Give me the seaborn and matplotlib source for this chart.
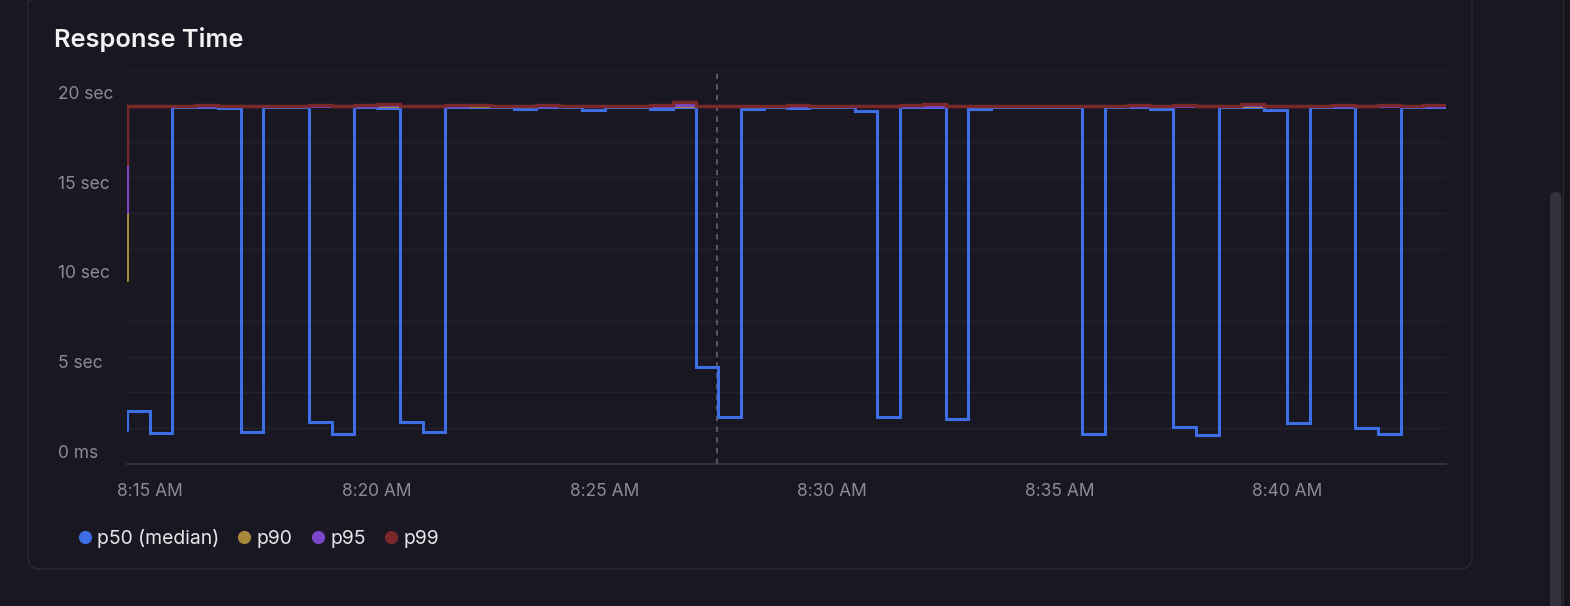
# response time percentiles, dark dashboard card

import matplotlib
matplotlib.use("Agg")
import matplotlib.pyplot as plt
from matplotlib.lines import Line2D
from matplotlib.patches import FancyBboxPatch, Rectangle
from matplotlib.transforms import IdentityTransform, ScaledTranslation
import seaborn as sns
import pandas as pd

# 30 second buckets, 8:14:30 .. 8:43:30
times = pd.date_range("2024-01-01 08:14:30", "2024-01-01 08:43:30", freq="30s")

# seconds
p50 = [1.9, 2.96, 1.75, 19.93, 19.93, 19.9, 1.8, 19.93, 19.93, 2.33,
       1.68, 19.93, 19.9, 2.33, 1.77, 19.93, 19.93, 19.94, 19.82, 19.93,
       19.93, 19.75, 19.93, 19.93, 19.82, 19.96, 5.4, 2.65, 19.85, 19.93,
       19.86, 19.93, 19.93, 19.7, 2.6, 19.93, 19.94, 2.5, 19.85, 19.93,
       19.93, 19.93, 19.93, 1.7, 19.93, 19.93, 19.85, 2.08, 1.62, 19.93,
       19.96, 19.75, 2.27, 19.93, 19.93, 2.03, 1.66, 19.93, 19.93]
p90 = [10.3, 20.0, 20.0, 20.0, 20.0, 20.0, 20.0, 20.0, 20.0, 20.0,
       20.0, 20.0, 20.0, 20.0, 20.0, 20.0, 20.0, 20.0, 20.0, 20.0,
       20.0, 20.0, 20.0, 20.0, 20.0, 20.0, 20.0, 20.0, 20.0, 20.0,
       20.0, 20.0, 20.0, 20.0, 20.0, 20.0, 20.0, 20.0, 20.0, 20.0,
       20.0, 20.0, 20.0, 20.0, 20.0, 20.0, 20.0, 20.0, 20.0, 20.0,
       20.0, 20.0, 20.0, 20.0, 20.0, 20.0, 20.0, 20.0, 20.0]
p95 = [14.06, 20.0, 20.0, 20.0, 20.0, 20.0, 20.0, 20.0, 20.0, 20.0,
       20.0, 20.0, 20.02, 20.0, 20.0, 20.0, 20.03, 20.0, 20.0, 20.0,
       20.0, 20.0, 20.0, 20.0, 20.0, 20.04, 20.0, 20.0, 20.0, 20.0,
       20.0, 20.0, 20.0, 20.0, 20.0, 20.0, 20.0, 20.0, 20.0, 20.0,
       20.0, 20.0, 20.0, 20.0, 20.0, 20.0, 20.0, 20.0, 20.0, 20.0,
       20.03, 20.0, 20.0, 20.0, 20.0, 20.0, 20.0, 20.0, 20.0]
p99 = [16.75, 20.0, 20.0, 20.0, 20.02, 20.0, 20.0, 20.0, 20.0, 20.02,
       20.0, 20.03, 20.1, 20.0, 20.0, 20.02, 20.05, 20.0, 20.0, 20.02,
       20.0, 20.0, 20.0, 20.0, 20.03, 20.2, 20.0, 20.0, 20.0, 20.0,
       20.02, 20.0, 20.0, 20.0, 20.0, 20.03, 20.1, 20.0, 20.0, 20.0,
       20.0, 20.0, 20.0, 20.0, 20.0, 20.02, 20.0, 20.05, 20.0, 20.0,
       20.12, 20.0, 20.0, 20.0, 20.03, 20.0, 20.02, 20.0, 20.05]

series_names = ["p50 (median)", "p90", "p95", "p99"]
series_colors = ["#3d6ee6", "#a8893b", "#7b45c9", "#7a2829"]

y_ticks = [0, 5, 10, 15, 20]
y_tick_labels = ["0 ms", "5 sec", "10 sec", "15 sec", "20 sec"]
x_tick_times = pd.to_datetime(["2024-01-01 08:15", "2024-01-01 08:20", "2024-01-01 08:25",
                               "2024-01-01 08:30", "2024-01-01 08:35", "2024-01-01 08:40"])
x_tick_labels = ["8:15 AM", "8:20 AM", "8:25 AM", "8:30 AM", "8:35 AM", "8:40 AM"]
hover_time = pd.Timestamp("2024-01-01 08:27:28")

BG = "#191822"
W, H = 1570, 606

df = pd.DataFrame({
    "time": list(times) * 4,
    "value": p50 + p90 + p95 + p99,
    "series": [n for n in series_names for _ in times],
})

sns.set_style("dark", rc={"axes.facecolor": BG, "figure.facecolor": BG})
plt.rcParams["font.family"] = ["Inter", "DejaVu Sans"]

fig = plt.figure(figsize=(W / 100, H / 100), dpi=100)


def fx(x):
    return x / W


def fy(y):
    return (H - y) / H


# plot box in pixels: x 127..1446, y 70..464
ax = fig.add_axes([fx(127), fy(464), (1446 - 127) / W, (464 - 70) / H])

sns.lineplot(data=df, x="time", y="value", hue="series", hue_order=series_names,
             palette=series_colors, drawstyle="steps-pre", linewidth=2.2,
             legend=False, ax=ax, estimator=None)
for line in ax.get_lines():
    line.set_solid_joinstyle("miter")
ax.get_lines()[-1].set_linewidth(2.4)

ax.axvline(hover_time, color="#6a6975", lw=1.1, dashes=(3.5, 3.5), zorder=1)

ax.set_xlim(times[0], times[-1])
ax.set_ylim(0, 22)
ax.set_xlabel("")
ax.set_ylabel("")

# faint grid every 2 s, labels every 5 s
ax.set_yticks(range(0, 23, 2), minor=True)
ax.grid(False)
ax.grid(True, which="minor", axis="y", color="#23222d", lw=1)
ax.set_yticks(y_ticks)
ax.set_yticklabels(y_tick_labels)
ax.set_xticks(x_tick_times)
ax.set_xticklabels(x_tick_labels)

ax.tick_params(axis="both", which="both", length=0, colors="#8b8a96", labelsize=12.5)
ax.tick_params(axis="x", pad=14)
ax.tick_params(axis="y", pad=49.5)
for lab in ax.get_yticklabels():
    lab.set_ha("left")
    lab.set_transform(lab.get_transform() + ScaledTranslation(0, 13 / 100, fig.dpi_scale_trans))

for side in ["top", "left", "right"]:
    ax.spines[side].set_visible(False)
ax.spines["bottom"].set_color("#3a3944")
ax.spines["bottom"].set_linewidth(1.1)

# card, scrollbar
card = FancyBboxPatch((28, H - 569), 1444, 580, boxstyle="round,pad=0,rounding_size=12",
                      fill=False, edgecolor="#2f2e39", lw=0.8, transform=IdentityTransform())
fig.add_artist(card)
fig.add_artist(Rectangle((1563, 0), 10, H, color="#15141b", lw=0, transform=IdentityTransform()))
fig.add_artist(Line2D([1562.5, 1562.5], [0, H], color="#2c2b34", lw=0.8, transform=IdentityTransform()))
thumb = FancyBboxPatch((1550, -20), 11.5, H - 192 + 20, boxstyle="round,pad=0,rounding_size=5.5",
                       color="#33323c", lw=0, transform=IdentityTransform())
fig.add_artist(thumb)

fig.text(fx(54), fy(47.5), "Response Time", color="#f3f3f6", fontsize=18.3,
         fontweight="semibold", va="baseline", ha="left")

handles = [Line2D([], [], marker="o", ls="", color=c, markersize=8.5) for c in series_colors]
leg = fig.legend(handles, series_names, loc="center left", bbox_to_anchor=(fx(79), fy(538)),
                 ncol=4, frameon=False, fontsize=13.9, handlelength=0.6, handletextpad=0.34,
                 columnspacing=1.0, borderpad=0, borderaxespad=0)
for t in leg.get_texts():
    t.set_color("#e6e6ea")

fig.savefig("out.png", dpi=100, facecolor=BG)
